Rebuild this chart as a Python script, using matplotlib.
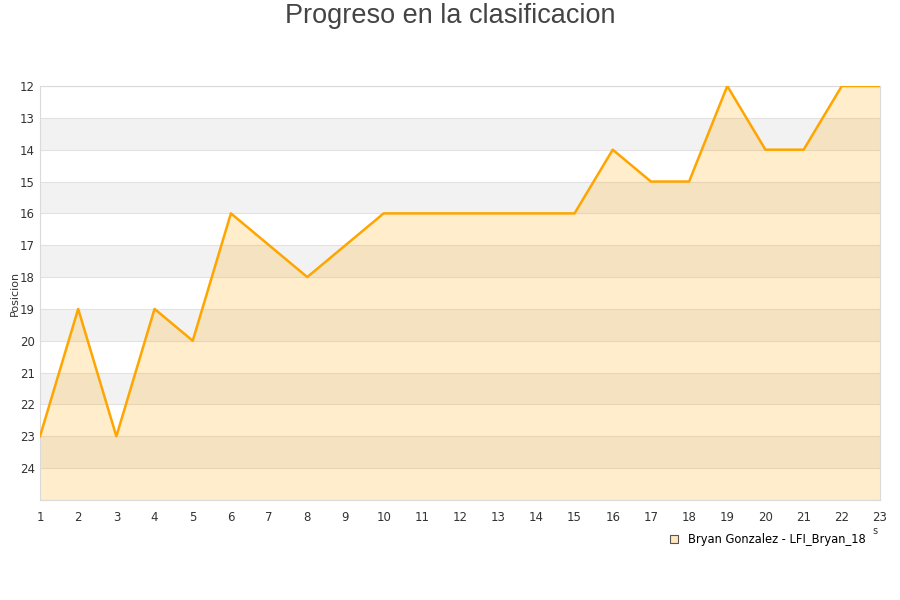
import numpy as np
from matplotlib import pyplot as plt
from matplotlib.lines import Line2D

# Datos
jornadas = list(range(1, 24))
posiciones = [23, 19, 23, 19, 20, 16, 17, 18, 17, 16, 16, 16,
              16, 16, 16, 14, 15, 15, 12, 14, 14, 12, 12]
etiquetas_y = list(range(12, 25))
jugador = "Bryan Gonzalez - LFI_Bryan_18"

NARANJA = "#FFA500"
GRIS = "#DADADA"

fig = plt.figure(figsize=(9, 6), dpi=100)
ax = fig.add_axes([40 / 900, 100 / 600, 840 / 900, 414 / 600])

ax.set_xlim(1, 23)
ax.set_ylim(25, 12)

# Bandas alternas
for y in range(13, 25, 2):
    ax.axhspan(y, y + 1, color="#F2F2F2", zorder=0, lw=0)
for y in range(12, 26):
    ax.axhline(y, color="#E2E2E2", lw=0.8, zorder=1)

ax.fill_between(jornadas, posiciones, 25, color=NARANJA, alpha=0.2, lw=0, zorder=2)
ax.plot(jornadas, posiciones, color=NARANJA, lw=1.8, zorder=3)

ax.set_xticks(jornadas)
ax.set_yticks(etiquetas_y)
ax.tick_params(axis="both", length=0, labelsize=8.5, colors="#333333")
ax.tick_params(axis="x", pad=8)
ax.tick_params(axis="y", pad=9)
for lbl in ax.get_yticklabels():
    lbl.set_horizontalalignment("center")
for s in ax.spines.values():
    s.set_color(GRIS)
    s.set_linewidth(0.8)

ax.set_ylabel("Posicion", fontsize=8, color="#333333")
ax.yaxis.set_label_coords(-20 / 840, 0.5)
fig.text(0.5, 1 - 16 / 600, "Progreso en la clasificacion", ha="center", va="center",
         fontsize=19.5, color="#444444", family=["Liberation Sans", "DejaVu Sans"])
fig.text(875 / 900, 1 - 531 / 600, "s", ha="center", va="center", fontsize=7, color="#333333")

marca = Line2D([], [], marker="s", ls="none", markersize=6,
               markerfacecolor="#FFE7BF", markeredgecolor="#555555", markeredgewidth=0.8)
fig.legend([marca], [jugador], loc="center right", bbox_to_anchor=(872 / 900, 1 - 540 / 600),
           frameon=False, fontsize=8.3, handletextpad=0.8, borderpad=0, handlelength=1)

plt.savefig("out.png", dpi=100)
